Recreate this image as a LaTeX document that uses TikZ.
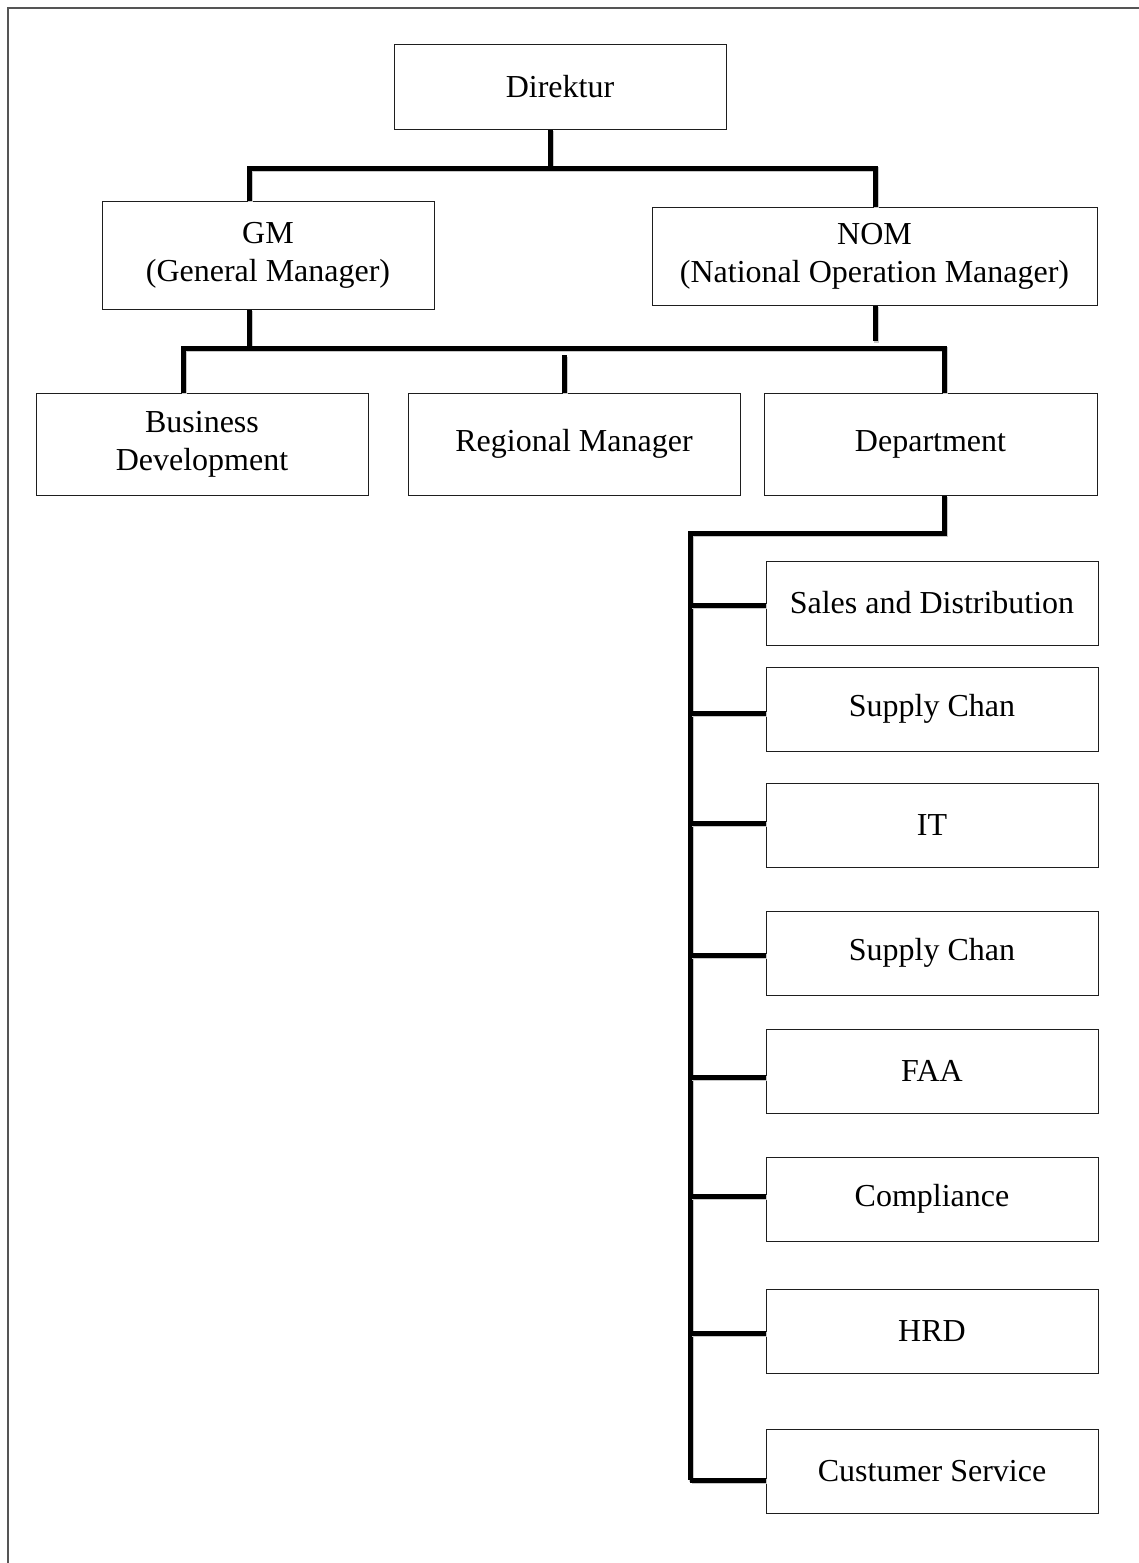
\documentclass[tikz,border=0pt]{standalone}
\usepackage{fontspec}
\setmainfont{Liberation Serif}
\usepackage{xcolor}
\usepackage{tikz}
\usetikzlibrary{positioning,calc}
\definecolor{framegray}{RGB}{85, 85, 85}
\definecolor{boxline}{RGB}{30, 30, 30}
\tikzset{
    orgbox/.style={draw=boxline, line width=1pt, minimum width=332pt, minimum height=84pt,
        inner sep=0pt, align=center, font=\fontsize{32}{38}\selectfont},
    link/.style={line width=5pt, black,
        preaction={draw=black!22, line width=5pt, transform canvas={shift={(1.5pt,-1.5pt)}}}}
}
\begin{document}
\begin{tikzpicture}[x=1pt, y=-1pt]
    \useasboundingbox (0,0) rectangle (1139,1563);
    \draw[framegray, line width=1.5pt] (8,1570) -- (8,8) -- (1145,8);
    \node[orgbox] (direktur) at (560,87) {Direktur};
    \node[orgbox, minimum height=108pt] (gm) at (268,255) {GM\\(General Manager)};
    \node[orgbox, minimum width=445pt, minimum height=98pt] (nom) at (874.5,256) {NOM\\(National Operation Manager)};
    \node[orgbox, minimum height=102pt] (bizdev) at (202,444) {Business\\Development};
    \node[orgbox, minimum height=102pt] (regional) at (574,444) {Regional Manager};
    \node[orgbox, minimum width=333pt, minimum height=102pt] (dept) at (930.5,444) {Department};
    \node[orgbox] (sales) at (932,603) {Sales and Distribution};
    \node[orgbox] (supplyA) at (932,709) {Supply Chan};
    \node[orgbox] (it) at (932,825) {IT};
    \node[orgbox] (supplyB) at (932,953) {Supply Chan};
    \node[orgbox] (faa) at (932,1071) {FAA};
    \node[orgbox] (compliance) at (932,1199) {Compliance};
    \node[orgbox] (hrd) at (932,1331) {HRD};
    \node[orgbox] (custserv) at (932,1471.5) {Custumer Service};
    \coordinate (topbus) at (550,168);
    \coordinate (gmdrop) at (249,168);
    \coordinate (nomdrop) at (875,168);
    \coordinate (bizdrop) at (183,348);
    \coordinate (gmup) at (249,348);
    \coordinate (nomup) at (875,348);
    \coordinate (regdrop) at (564,348);
    \coordinate (deptdrop) at (944,348);
    \coordinate (deptturn) at (944,533);
    \coordinate (spine) at (690,533);
    \draw[link] (direktur.south -| topbus) -- (topbus);
    \draw[link] (gm.north -| gmdrop) -- (gmdrop) -- (nomdrop) -- (nom.north -| nomdrop);
    \draw[link] (gm.south -| gmup) -- (gmup);
    \draw[link] (nom.south -| nomup) -- ($(nomup)+(0,-7)$);
    \draw[link] (bizdev.north -| bizdrop) -- ++(0,-8) |- (deptdrop) -- (dept.north -| deptdrop);
    \draw[link] ($(regdrop)+(0,7)$) -- (regional.north -| regdrop);
    \draw[link] (dept.south -| deptturn) -- (deptturn) -- (spine) -- (spine |- 0,1480);
    \foreach \n/\y in {sales/605, supplyA/713, it/823, supplyB/955, faa/1077, compliance/1196, hrd/1333, custserv/1480}
        \draw[link] (spine |- 0,\y) -- (\n.west |- 0,\y);
\end{tikzpicture}
\end{document}
